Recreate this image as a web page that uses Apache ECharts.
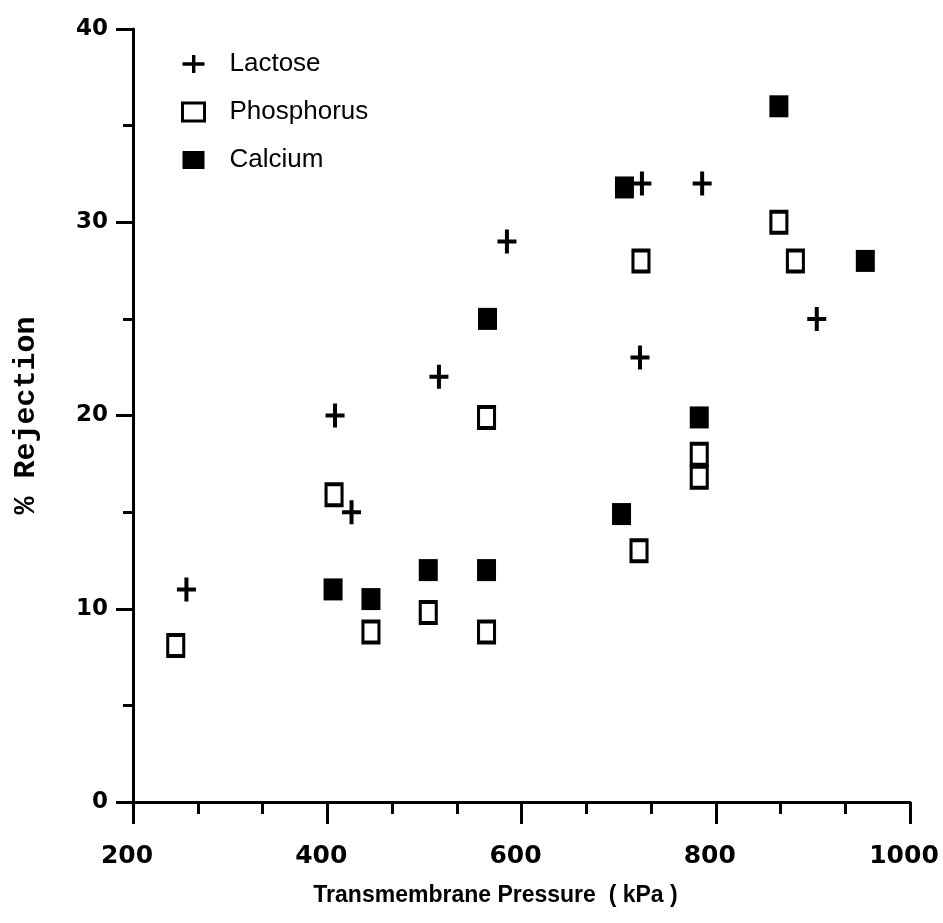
<!DOCTYPE html>
<html>
<head>
<meta charset="utf-8">
<script src="https://cdn.jsdelivr.net/npm/echarts@6/dist/echarts.min.js"></script>
<style>html,body{margin:0;padding:0;background:#fff}#c{width:943px;height:923px}</style>
</head>
<body>
<div id="c"></div>
<script>
// Data (x = transmembrane pressure kPa, y = % rejection)
const lactoseX = [255, 408, 425, 515, 585, 724, 786, 722, 904];
const lactoseY = [11, 20, 15, 22, 29, 32, 32, 23, 25];
const phosphorusX = [244, 407, 445, 504, 564, 564, 721, 723, 783, 783, 865, 882];
const phosphorusY = [8.1, 15.9, 8.8, 9.8, 8.8, 19.9, 13, 28, 18, 16.8, 30, 28];
const calciumX = [406, 445, 504, 564, 565, 703, 706, 783, 865, 954];
const calciumY = [11, 10.5, 12, 12, 25, 14.9, 31.8, 19.9, 36, 28];
const seriesNames = ['Lactose', 'Phosphorus', 'Calcium'];
const xTitle = 'Transmembrane Pressure  ( kPa )';
const yTitle = '% Rejection';

function pairs(xs, ys) { return xs.map((x, i) => [x, ys[i]]); }

const plusPath = 'path://M7.5,0h4v10h7.5v4h-7.5v10h-4v-10h-7.5v-4h7.5z';
const plusLegend = 'path://M9.5,0h3.4v7.3h9.1v3.4h-9.1v7.3h-3.4v-7.3h-9.5v-3.4h9.5z';

const chart = echarts.init(document.getElementById('c'), null, {renderer: 'canvas'});
chart.setOption({
  animation: false,
  backgroundColor: '#fff',
  grid: {left: 133, right: 33, top: 29, bottom: 121},
  legend: {
    orient: 'vertical',
    left: 176,
    top: 46,
    itemWidth: 22,
    itemHeight: 18,
    itemGap: 22,
    selectedMode: false,
    textStyle: {fontFamily: 'Liberation Sans', fontSize: 26, color: '#000', padding: [0, 0, 0, 20]},
    data: [
      {name: seriesNames[0], icon: plusLegend, itemStyle: {color: '#000', borderWidth: 0, opacity: 1}},
      {name: seriesNames[1], icon: 'rect', itemStyle: {color: '#fff', borderColor: '#000', borderWidth: 3, opacity: 1}},
      {name: seriesNames[2], icon: 'rect', itemStyle: {color: '#000', borderWidth: 0, opacity: 1}}
    ]
  },
  xAxis: {
    type: 'value', min: 200, max: 1000, interval: 200,
    name: xTitle, nameLocation: 'middle', nameGap: 82,
    nameTextStyle: {fontFamily: 'Liberation Sans', fontWeight: 'bold', fontSize: 23, color: '#000', padding: [0, 52, 0, 0]},
    axisLine: {show: true, lineStyle: {color: '#000', width: 3}},
    axisTick: {show: true, length: 22, lineStyle: {color: '#000', width: 3}},
    minorTick: {show: true, splitNumber: 3, length: 12, lineStyle: {color: '#000', width: 3}},
    splitLine: {show: false},
    minorSplitLine: {show: false},
    axisLabel: {fontFamily: 'DejaVu Sans', fontWeight: 'bold', fontSize: 25, color: '#000', margin: 42, padding: [0, 12, 0, 0],
      formatter: v => String(v)}
  },
  yAxis: {
    type: 'value', min: 0, max: 40, interval: 10,
    name: yTitle, nameLocation: 'middle', nameGap: 92, nameRotate: 90,
    nameTextStyle: {fontFamily: 'Liberation Mono', fontWeight: 'bold', fontSize: 30, color: '#000'},
    axisLine: {show: true, lineStyle: {color: '#000', width: 3}},
    axisTick: {show: true, length: 17, lineStyle: {color: '#000', width: 3}},
    minorTick: {show: true, splitNumber: 2, length: 10, lineStyle: {color: '#000', width: 3}},
    splitLine: {show: false},
    minorSplitLine: {show: false},
    axisLabel: {fontFamily: 'DejaVu Sans', fontWeight: 'bold', fontSize: 23, color: '#000', margin: 25, padding: [0, 0, 14, 0],
      formatter: v => String(v)}
  },
  series: [
    {
      name: seriesNames[0], type: 'scatter', data: pairs(lactoseX, lactoseY),
      symbol: plusPath, symbolSize: [19, 24],
      itemStyle: {color: '#000', opacity: 1}, z: 3
    },
    {
      name: seriesNames[1], type: 'scatter', data: pairs(phosphorusX, phosphorusY),
      symbol: 'rect', symbolSize: [16, 21],
      itemStyle: {color: '#fff', borderColor: '#000', borderWidth: 3.5, opacity: 1}, z: 2
    },
    {
      name: seriesNames[2], type: 'scatter', data: pairs(calciumX, calciumY),
      symbol: 'rect', symbolSize: [19, 22],
      itemStyle: {color: '#000', opacity: 1}, z: 2
    }
  ]
});
</script>
</body>
</html>
